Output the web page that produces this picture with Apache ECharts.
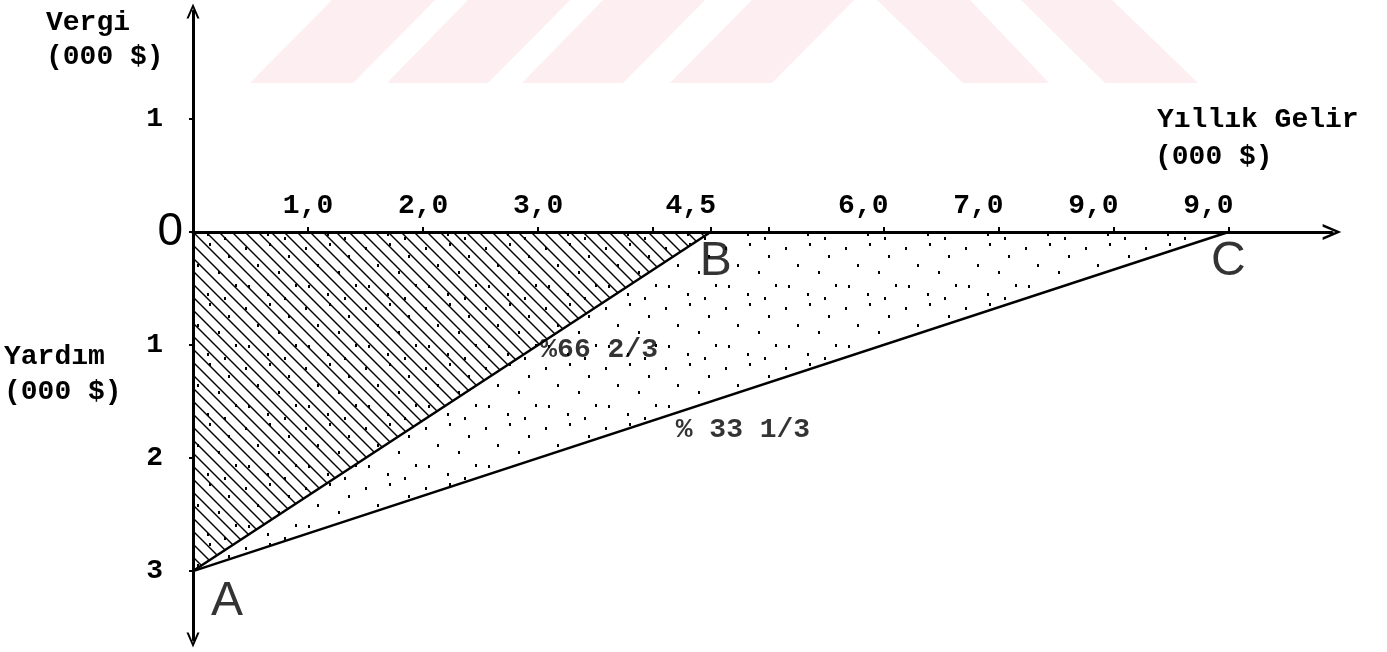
<!DOCTYPE html>
<html>
<head>
<meta charset="utf-8">
<script src="https://cdn.jsdelivr.net/npm/echarts@6/dist/echarts.min.js"></script>
<style>
  html, body { margin: 0; padding: 0; background: #fff; }
  #chart { width: 1387px; height: 652px; }
</style>
</head>
<body>
<div id="chart"></div>
<script>
// x axis: yearly income (000 $), ticks and the labels typed over them
const xTickValues = [1, 2, 3, 4, 4.5, 5, 6, 7, 8, 9];
const xLabelValues = [1, 2, 3, 4.5, 6, 7, 8, 9];
const xLabelTexts = ['1,0', '2,0', '3,0', '4,5', '6,0', '7,0', '9,0', '9,0'];

// y axis: tax above zero, subsidy below zero
const yTickValues = [-3, -2, -1, 0, 1];
const yLabelTexts = ['3', '2', '1', '0', '1'];

// corner points of the two triangles
const pointNames = ['A', 'B', 'C'];
const pointX = [0, 4.5, 9];
const pointY = [-3, 0, 0];

// rate labels written along the two lines
const rateTexts = ['%66 2/3', '% 33 1/3'];
const rateX = [3.53, 4.78];
const rateY = [-1.04, -1.75];

const mono = "'Liberation Mono', 'DejaVu Sans Mono', monospace";
const sans = "'Liberation Sans', 'DejaVu Sans', sans-serif";

function hatchPattern() {
  const s = 13;
  const c = document.createElement('canvas');
  c.width = s; c.height = s;
  const g = c.getContext('2d');
  g.strokeStyle = '#000';
  g.lineWidth = 1.4;
  for (let k = -1; k <= 1; k++) {
    g.beginPath();
    g.moveTo(k * s - 2, -2);
    g.lineTo(k * s + s + 2, s + 2);
    g.stroke();
  }
  return c;
}

function dotPattern() {
  const c = document.createElement('canvas');
  c.width = 60; c.height = 60;
  const g = c.getContext('2d');
  g.fillStyle = '#000';
  const dots = [[5, 7], [29, 3], [48, 15], [17, 24], [38, 31], [55, 44], [8, 45], [27, 53], [44, 57]];
  dots.forEach(function (d) { g.fillRect(d[0], d[1], 2, 3); });
  return c;
}

const chart = echarts.init(document.getElementById('chart'));

const points = pointNames.map(function (n, i) { return [pointX[i], pointY[i]]; });
const lineAB = [points[0], points[1]];
const lineAC = [points[0], points[2]];
const pointLabelOffsets = [[34, 31], [5, 30], [0, 30]];

const arrow = 'path://M6,0 L12,14 L10,14 L6,4.5 L2,14 L0,14 Z';

const option = {
  animation: false,
  backgroundColor: '#fff',
  grid: { left: 193, right: 55, top: 11, bottom: 12 },
  xAxis: {
    type: 'value',
    position: 'top',
    offset: -221,
    min: 0,
    max: 9.9,
    axisLine: {
      onZero: false,
      symbol: ['none', arrow],
      symbolSize: [16, 22],
      lineStyle: { color: '#000', width: 3 }
    },
    axisTick: {
      customValues: xTickValues,
      length: 5,
      lineStyle: { color: '#000', width: 2 }
    },
    axisLabel: {
      customValues: xLabelValues,
      margin: 12,
      color: '#000',
      fontFamily: mono,
      fontWeight: 'bold',
      fontSize: 28,
      formatter: function (v) {
        const i = xLabelValues.indexOf(v);
        if (i < 0) return '';
        return v >= 4.5 ? '{s|' + xLabelTexts[i] + '}' : xLabelTexts[i];
      },
      rich: {
        s: { fontFamily: mono, fontWeight: 'bold', fontSize: 28, color: '#000', padding: [0, 40, 0, 0] }
      }
    },
    splitLine: { show: false }
  },
  yAxis: {
    type: 'value',
    min: -3.61,
    max: 1.956,
    axisLine: {
      onZero: false,
      symbol: [arrow, arrow],
      symbolSize: [13, 16],
      lineStyle: { color: '#000', width: 3 }
    },
    axisTick: {
      customValues: yTickValues,
      length: 4,
      lineStyle: { color: '#000', width: 2 }
    },
    axisLabel: {
      customValues: yTickValues,
      margin: 10,
      color: '#000',
      fontFamily: mono,
      fontWeight: 'bold',
      fontSize: 28,
      formatter: function (v) {
        const i = yTickValues.indexOf(v);
        if (i < 0) return '';
        return v === 0 ? '{z|0}' : '{d|' + yLabelTexts[i] + '}';
      },
      rich: {
        d: { fontFamily: mono, fontWeight: 'bold', fontSize: 28, color: '#000', padding: [0, 20, 0, 0] },
        z: { fontFamily: sans, fontWeight: 'normal', fontSize: 46, color: '#000' }
      }
    },
    splitLine: { show: false }
  },
  graphic: [
    { type: 'polygon', z: -10, silent: true, shape: { points: [[250, 83], [353, 83], [435, 0], [332, 0]] }, style: { fill: '#fdeef1' } },
    { type: 'polygon', z: -10, silent: true, shape: { points: [[387, 83], [488, 83], [570, 0], [468, 0]] }, style: { fill: '#fdeef1' } },
    { type: 'polygon', z: -10, silent: true, shape: { points: [[522, 83], [623, 83], [705, 0], [603, 0]] }, style: { fill: '#fdeef1' } },
    { type: 'polygon', z: -10, silent: true, shape: { points: [[670, 83], [772, 83], [854, 0], [752, 0]] }, style: { fill: '#fdeef1' } },
    { type: 'polygon', z: -10, silent: true, shape: { points: [[877, 0], [970, 0], [1049, 83], [963, 83]] }, style: { fill: '#fdeef1' } },
    { type: 'polygon', z: -10, silent: true, shape: { points: [[1021, 0], [1112, 0], [1198, 83], [1105, 83]] }, style: { fill: '#fdeef1' } },
    { type: 'text', left: 46, top: 9, style: { text: 'Vergi', font: 'bold 28px ' + mono, fill: '#000' } },
    { type: 'text', left: 46, top: 43, style: { text: '(000 $)', font: 'bold 28px ' + mono, fill: '#000' } },
    { type: 'text', left: 1157, top: 106, style: { text: 'Yıllık Gelir', font: 'bold 28px ' + mono, fill: '#000' } },
    { type: 'text', left: 1155, top: 143, style: { text: '(000 $)', font: 'bold 28px ' + mono, fill: '#000' } },
    { type: 'text', left: 4, top: 343, style: { text: 'Yardım', font: 'bold 28px ' + mono, fill: '#000' } },
    { type: 'text', left: 4, top: 378, style: { text: '(000 $)', font: 'bold 28px ' + mono, fill: '#000' } }
  ],
  series: [
    {
      name: 'AC',
      type: 'line',
      data: lineAC,
      symbol: 'none',
      z: 2,
      lineStyle: { color: '#000', width: 2.5 },
      areaStyle: { color: { image: dotPattern(), repeat: 'repeat' }, opacity: 1 }
    },
    {
      name: 'AB',
      type: 'line',
      data: lineAB,
      symbol: 'none',
      z: 3,
      lineStyle: { color: '#000', width: 2.5 },
      areaStyle: { color: { image: hatchPattern(), repeat: 'repeat' }, opacity: 1 }
    },
    {
      name: 'points',
      type: 'scatter',
      symbolSize: 0,
      z: 5,
      data: points.map(function (p, i) {
        return {
          value: p,
          label: {
            show: true,
            formatter: pointNames[i],
            position: 'inside',
            offset: pointLabelOffsets[i],
            fontFamily: sans,
            fontSize: 48,
            fontWeight: 'lighter',
            color: '#000'
          }
        };
      })
    },
    {
      name: 'rates',
      type: 'scatter',
      symbolSize: 0,
      z: 5,
      data: rateTexts.map(function (t, i) {
        return {
          value: [rateX[i], rateY[i]],
          label: {
            show: true,
            formatter: t,
            position: 'inside',
            fontFamily: mono,
            fontSize: 28,
            fontWeight: 'bold',
            color: '#000'
          }
        };
      })
    }
  ]
};

chart.setOption(option);
</script>
</body>
</html>
